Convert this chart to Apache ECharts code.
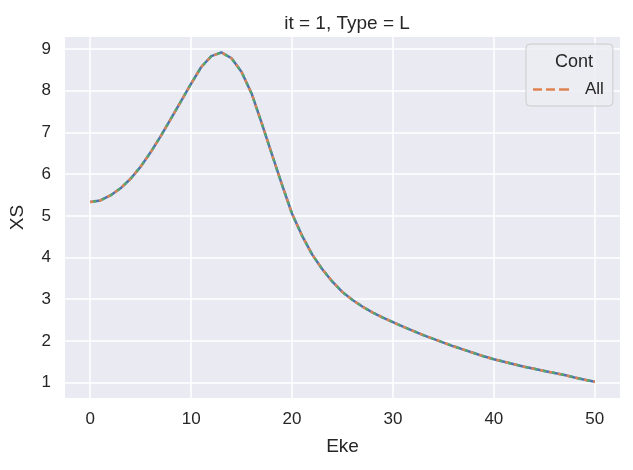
<!DOCTYPE html>
<html>
<head>
<meta charset="utf-8">
<script src="https://cdn.jsdelivr.net/npm/echarts@6/dist/echarts.min.js"></script>
<style>
  html, body { margin: 0; padding: 0; background: #fff; }
  #chart { width: 633px; height: 470px; }
</style>
</head>
<body>
<div id="chart"></div>
<script>
// x values (Eke) and XS
const eke = [
  0, 1, 2, 3, 4, 5, 6, 7, 8, 9, 10, 11, 12, 13, 14, 15, 16, 17, 18, 19,
  20, 21, 22, 23, 24, 25, 26, 27, 28, 29, 30, 31, 32, 33, 34, 35, 36, 37, 38, 39,
  40, 41, 42, 43, 44, 45, 46, 47, 48, 49, 50
];
const xs = [
  5.33, 5.37, 5.49, 5.66, 5.89, 6.18, 6.53, 6.92, 7.33, 7.75,
  8.17, 8.57, 8.83, 8.92, 8.78, 8.45, 7.93, 7.22, 6.48, 5.75,
  5.05, 4.52, 4.07, 3.72, 3.42, 3.17, 2.98, 2.82, 2.68, 2.56,
  2.45, 2.34, 2.24, 2.14, 2.05, 1.96, 1.87, 1.79, 1.71, 1.63,
  1.56, 1.50, 1.44, 1.38, 1.33, 1.28, 1.23, 1.18, 1.12, 1.07, 1.02
];
const xTicks = [0, 10, 20, 30, 40, 50];
const yTicks = [1, 2, 3, 4, 5, 6, 7, 8, 9];

const pts = eke.map((x, i) => [x, xs[i]]);
const textColor = "#262626";
const font = "'Liberation Sans', Arial, sans-serif";

const chart = echarts.init(document.getElementById("chart"), null, { renderer: "canvas" });

const option = {
  animation: false,
  backgroundColor: "#ffffff",
  title: [
    {
      text: "it = 1, Type = L",
      left: 342,
      textAlign: "center",
      top: 9,
      textStyle: { color: textColor, fontSize: 19, fontWeight: "normal", fontFamily: font },
    },
    {
      text: "Cont",
      left: 569,
      textAlign: "center",
      top: 48,
      textStyle: { color: textColor, fontSize: 18, fontWeight: "normal", fontFamily: font },
    },
  ],
  legend: {
    left: 526,
    top: 44,
    orient: "vertical",
    padding: [37, 9, 8, 7],
    itemWidth: 36,
    itemHeight: 2.5,
    icon: "path://M0,0h9v2.5h-9zM13,0h9v2.5h-9zM26,0h10v2.5h-10z",
    backgroundColor: "rgba(236,236,243,0.85)",
    borderColor: "#cccccc",
    borderWidth: 1,
    borderRadius: 4,
    data: [
      {
        name: "All",
        itemStyle: { color: "#DD8452" },
      },
    ],
    textStyle: { color: textColor, fontSize: 17, fontFamily: font, padding: [0, 0, 0, 11] },
  },
  grid: {
    left: 63,
    right: 13,
    top: 37,
    bottom: 72,
    show: true,
    backgroundColor: "#EAEAF2",
    borderWidth: 0,
  },
  xAxis: {
    type: "value",
    min: -2.5,
    max: 52.5,
    name: "Eke",
    nameLocation: "middle",
    nameGap: 39,
    nameTextStyle: { color: textColor, fontSize: 19, fontFamily: font },
    axisLine: { show: false },
    axisTick: { show: false, customValues: xTicks },
    axisLabel: { customValues: xTicks, color: textColor, fontSize: 17, fontFamily: font, margin: 13 },
    splitLine: { show: true, lineStyle: { color: "#ffffff", width: 1.5 } },
  },
  yAxis: {
    type: "value",
    min: 0.63,
    max: 9.29,
    name: "XS",
    nameLocation: "middle",
    nameGap: 38,
    nameTextStyle: { color: textColor, fontSize: 19, fontFamily: font },
    axisLine: { show: false },
    axisTick: { show: false, customValues: yTicks },
    axisLabel: { customValues: yTicks, color: textColor, fontSize: 17, fontFamily: font, margin: 14 },
    splitLine: { show: true, lineStyle: { color: "#ffffff", width: 1.5 } },
  },
  series: [
    {
      name: "base",
      type: "line",
      data: pts,
      symbol: "none",
      lineStyle: { color: "#4C72B0", width: 2.5 },
      z: 2,
    },
    {
      name: "green",
      type: "line",
      data: pts,
      symbol: "none",
      lineStyle: { color: "#55A868", width: 2.5, type: [3, 6], dashOffset: 6 },
      z: 3,
    },
    {
      name: "All",
      type: "line",
      data: pts,
      symbol: "none",
      lineStyle: { color: "#DD8452", width: 2.5, type: [3, 6] },
      z: 4,
    },
  ],
};

chart.setOption(option);
</script>
</body>
</html>
